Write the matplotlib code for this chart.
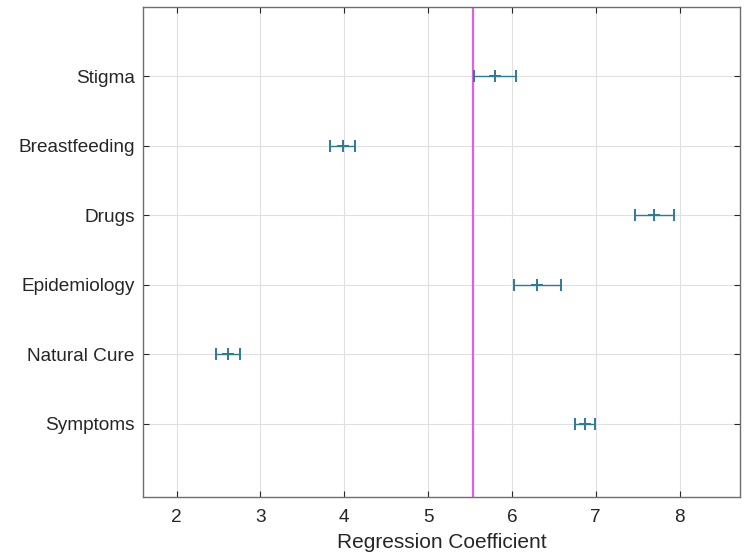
import matplotlib as mpl
mpl.use('Agg')
import matplotlib.pyplot as plt
import numpy as np

# topic labels, bottom to top
topics = ['Symptoms', 'Natural Cure', 'Epidemiology', 'Drugs', 'Breastfeeding', 'Stigma']
coef = [6.87, 2.61, 6.30, 7.70, 3.98, 5.80]
err = [0.12, 0.145, 0.28, 0.23, 0.15, 0.25]
ref_line = 5.54

plt.rcParams['font.family'] = ['Liberation Sans', 'DejaVu Sans']

fig = plt.figure(figsize=(7.44, 5.53), dpi=100)
ax = fig.add_axes([0.1922, 0.1013, 0.8024, 0.8869])

ypos = np.arange(1, len(topics) + 1)
ax.errorbar(coef, ypos, xerr=err, fmt='+', color='#2a7b9b', ecolor='#2a7b9b',
            elinewidth=1.0, capsize=4.5, capthick=1.0, markersize=8, mew=1.4, zorder=3)
ax.axvline(ref_line, color='#e060e0', linewidth=1.6, zorder=2)

ax.set_xlim(1.6, 8.72)
ax.set_ylim(-0.05, 7)
ax.set_xticks([2, 3, 4, 5, 6, 7, 8])
ax.set_yticks(ypos)
ax.set_yticklabels(topics)
ax.grid(True, color='#e0e0e0', linewidth=0.8)
ax.set_axisbelow(True)
ax.tick_params(direction='in', length=4, top=True, right=True, colors='#262626',
               labelsize=13.7, pad=6)
ax.tick_params(axis='x', pad=9)
for s in ax.spines.values():
    s.set_color('#6e6e6e')
    s.set_linewidth(1.0)
ax.set_xlabel('Regression Coefficient', fontsize=15, color='#262626', labelpad=5)

plt.savefig('out.png', dpi=100)
